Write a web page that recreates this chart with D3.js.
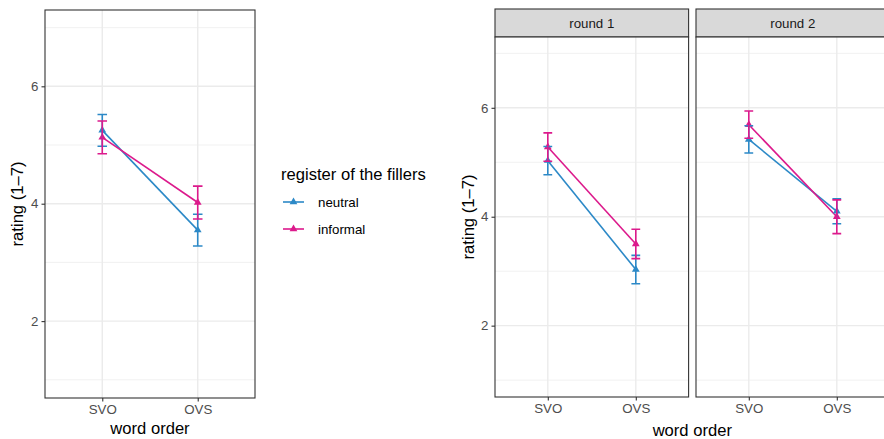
<!DOCTYPE html>
<html>
<head>
<meta charset="utf-8">
<script src="https://cdn.jsdelivr.net/npm/d3@7"></script>
<style>
  html, body { margin: 0; padding: 0; background: #fff; }
  svg { display: block; }
  text { font-family: "Liberation Sans", Arial, Helvetica, sans-serif; }
</style>
</head>
<body>
<svg id="chart" width="884" height="439"></svg>
<script>
// ---------- data ----------
const wordOrders = ["SVO", "OVS"];
const registers = ["neutral", "informal"];
const rounds = ["round 1", "round 2"];

// overall (left plot)
const overallNeutralMean = [5.25, 3.55];
const overallNeutralErr = [0.27, 0.27];
const overallInformalMean = [5.13, 4.02];
const overallInformalErr = [0.28, 0.28];

// round 1
const round1NeutralMean = [5.03, 3.03];
const round1NeutralErr = [0.26, 0.26];
const round1InformalMean = [5.28, 3.50];
const round1InformalErr = [0.26, 0.27];

// round 2
const round2NeutralMean = [5.42, 4.10];
const round2NeutralErr = [0.25, 0.23];
const round2InformalMean = [5.69, 4.00];
const round2InformalErr = [0.25, 0.31];

const yMajorTicks = [2, 4, 6];
const yMinorTicks = [1, 3, 5, 7];
const yDomain = [0.69, 7.3];

const legendTitle = "register of the fillers";
const xTitle = "word order";
const yTitle = "rating (1\u20137)";

// ---------- styles ----------
const colorMap = { neutral: "#2C89C7", informal: "#DC1A8C" };
const svg = d3.select("#chart");

function series(means, errs) {
  return wordOrders.map((w, i) => ({ w, m: means[i], e: errs[i] }));
}

const overallData = [
  { reg: "neutral", pts: series(overallNeutralMean, overallNeutralErr) },
  { reg: "informal", pts: series(overallInformalMean, overallInformalErr) }
];
const roundData = [
  [
    { reg: "neutral", pts: series(round1NeutralMean, round1NeutralErr) },
    { reg: "informal", pts: series(round1InformalMean, round1InformalErr) }
  ],
  [
    { reg: "neutral", pts: series(round2NeutralMean, round2NeutralErr) },
    { reg: "informal", pts: series(round2InformalMean, round2InformalErr) }
  ]
];

function drawPanel(g, x0, x1, y0, y1, data, showYAxis, showXAxis) {
  const x = d3.scalePoint().domain(wordOrders).range([x0, x1]).padding(0.6);
  const y = d3.scaleLinear().domain(yDomain).range([y1, y0]);
  const step = x.step();

  const clipId = "clip" + Math.round(x0);
  g.append("clipPath").attr("id", clipId)
    .append("rect").attr("x", x0).attr("y", y0).attr("width", x1 - x0).attr("height", y1 - y0);

  g.append("rect").attr("x", x0).attr("y", y0).attr("width", x1 - x0).attr("height", y1 - y0)
    .attr("fill", "#fff");

  const grid = g.append("g");
  grid.selectAll(".minor").data(yMinorTicks).join("line")
    .attr("x1", x0).attr("x2", x1)
    .attr("y1", d => y(d)).attr("y2", d => y(d))
    .attr("stroke", "#ebebeb").attr("stroke-width", 0.7);
  grid.selectAll(".major").data(yMajorTicks).join("line")
    .attr("x1", x0).attr("x2", x1)
    .attr("y1", d => y(d)).attr("y2", d => y(d))
    .attr("stroke", "#ebebeb").attr("stroke-width", 1.4);
  grid.selectAll(".vmajor").data(wordOrders).join("line")
    .attr("x1", d => x(d)).attr("x2", d => x(d))
    .attr("y1", y0).attr("y2", y1)
    .attr("stroke", "#ebebeb").attr("stroke-width", 1.4);

  const marks = g.append("g").attr("clip-path", `url(#${clipId})`);
  const line = d3.line().x(d => x(d.w)).y(d => y(d.m));
  // lines
  marks.selectAll(".ln").data(data).join("path")
    .attr("d", d => line(d.pts)).attr("fill", "none")
    .attr("stroke", d => colorMap[d.reg]).attr("stroke-width", 1.6);
  // points
  const tri = d3.symbol().type(d3.symbolTriangle).size(26);
  data.forEach(s => {
    marks.selectAll(null).data(s.pts).join("path")
      .attr("d", tri)
      .attr("transform", d => `translate(${x(d.w)},${y(d.m)})`)
      .attr("fill", colorMap[s.reg]);
  });
  // error bars
  const hw = step * 0.05;
  data.forEach(s => {
    const eb = marks.append("g").attr("stroke", colorMap[s.reg]).attr("stroke-width", 1.6).attr("fill", "none");
    eb.selectAll(null).data(s.pts).join("path")
      .attr("d", d => {
        const cx = x(d.w), t = y(d.m + d.e), b = y(d.m - d.e);
        return `M${cx - hw},${t}H${cx + hw}M${cx},${t}V${b}M${cx - hw},${b}H${cx + hw}`;
      });
  });

  // border
  g.append("rect").attr("x", x0).attr("y", y0).attr("width", x1 - x0).attr("height", y1 - y0)
    .attr("fill", "none").attr("stroke", "#333333").attr("stroke-width", 1.1);

  // axes
  if (showYAxis) {
    const ya = g.append("g").attr("transform", `translate(${x0},0)`)
      .call(d3.axisLeft(y).tickValues(yMajorTicks).tickSize(3.5).tickPadding(3).tickFormat(d3.format("d")));
    ya.select(".domain").remove();
    ya.selectAll(".tick line").attr("stroke", "#333333").attr("stroke-width", 1.1);
    ya.selectAll(".tick text").attr("fill", "#4d4d4d").style("font-size", "13.3px")
      .style("font-family", '"Liberation Sans", Arial, sans-serif');
  }
  if (showXAxis) {
    const xa = g.append("g").attr("transform", `translate(0,${y1})`)
      .call(d3.axisBottom(x).tickSize(3.5).tickPadding(3));
    xa.select(".domain").remove();
    xa.selectAll(".tick line").attr("stroke", "#333333").attr("stroke-width", 1.1);
    xa.selectAll(".tick text").attr("fill", "#4d4d4d").style("font-size", "13.3px")
      .style("font-family", '"Liberation Sans", Arial, sans-serif');
  }
  return { x, y };
}

// ---------- left plot ----------
const L = { x0: 45, x1: 255, y0: 10, y1: 398 };
const gl = svg.append("g");
drawPanel(gl, L.x0, L.x1, L.y0, L.y1, overallData, true, true);
svg.append("text").attr("x", (L.x0 + L.x1) / 2).attr("y", 434).attr("text-anchor", "middle")
  .style("font-size", "16.6px").attr("fill", "#000").text(xTitle);
svg.append("text").attr("transform", `translate(23,${(L.y0 + L.y1) / 2}) rotate(-90)`)
  .attr("text-anchor", "middle").style("font-size", "16.6px").attr("fill", "#000").text(yTitle);

// ---------- legend ----------
const lg = svg.append("g");
lg.append("text").attr("x", 281).attr("y", 180).style("font-size", "16.6px").attr("fill", "#000").text(legendTitle);
const tri = d3.symbol().type(d3.symbolTriangle).size(26);
registers.forEach((r, i) => {
  const cy = 202 + i * 27;
  lg.append("line").attr("x1", 283).attr("x2", 304).attr("y1", cy).attr("y2", cy)
    .attr("stroke", colorMap[r]).attr("stroke-width", 1.6);
  lg.append("path").attr("d", tri).attr("transform", `translate(293.5,${cy})`).attr("fill", colorMap[r]);
  lg.append("text").attr("x", 318).attr("y", cy + 4.6).style("font-size", "13.3px").attr("fill", "#000").text(r);
});

// ---------- right faceted plot ----------
const R = { y0: 37, y1: 397, stripTop: 9 };
const facetX = [[495, 688.6], [696, 889.6]];
facetX.forEach((fx, i) => {
  const g = svg.append("g");
  // strip
  g.append("rect").attr("x", fx[0]).attr("y", R.stripTop).attr("width", fx[1] - fx[0]).attr("height", R.y0 - R.stripTop)
    .attr("fill", "#d9d9d9").attr("stroke", "#333333").attr("stroke-width", 1.1);
  g.append("text").attr("x", (fx[0] + fx[1]) / 2).attr("y", (R.stripTop + R.y0) / 2 + 4.6)
    .attr("text-anchor", "middle").style("font-size", "13.3px").attr("fill", "#1a1a1a").text(rounds[i]);
  drawPanel(g, fx[0], fx[1], R.y0, R.y1, roundData[i], i === 0, true);
});
svg.append("text").attr("x", (facetX[0][0] + facetX[1][1]) / 2).attr("y", 436).attr("text-anchor", "middle")
  .style("font-size", "16.6px").attr("fill", "#000").text(xTitle);
svg.append("text").attr("transform", `translate(474,${(R.y0 + R.y1) / 2}) rotate(-90)`)
  .attr("text-anchor", "middle").style("font-size", "16.6px").attr("fill", "#000").text(yTitle);
</script>
</body>
</html>
